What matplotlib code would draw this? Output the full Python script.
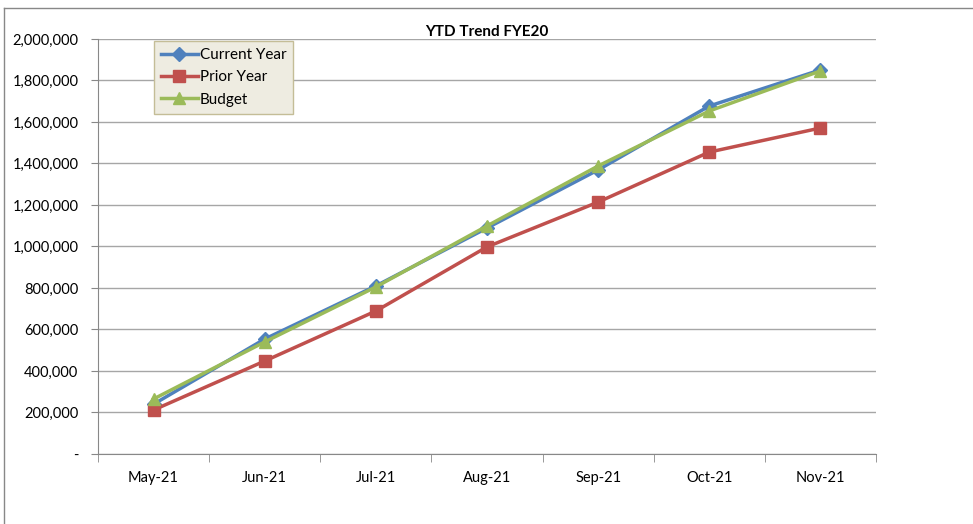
import matplotlib.pyplot as plt
from matplotlib.lines import Line2D
from matplotlib.ticker import FuncFormatter

plt.rcParams['font.family'] = ['Lato', 'DejaVu Sans']

### data #####
months = ['May-21', 'Jun-21', 'Jul-21', 'Aug-21', 'Sep-21', 'Oct-21', 'Nov-21']
current_year = [240000, 554000, 810000, 1089000, 1369000, 1677000, 1851000]
prior_year = [212000, 448000, 689000, 998000, 1214000, 1455000, 1571000]
budget = [265000, 540000, 805000, 1099000, 1388000, 1653000, 1846000]
y_ticks = [0, 200000, 400000, 600000, 800000, 1000000, 1200000, 1400000,
           1600000, 1800000, 2000000]

### figure #####
fig = plt.figure(figsize=(9.73, 5.24), dpi=100)
ax = fig.add_axes([0.1007, 0.1336, 0.7996, 0.7920])

x = list(range(len(months)))
ax.plot(x, current_year, color='#4F81BD', lw=2.5, marker='D', ms=7,
        label='Current Year', zorder=3)
ax.plot(x, prior_year, color='#C0504D', lw=2.5, marker='s', ms=8,
        label='Prior Year', zorder=3)
ax.plot(x, budget, color='#9BBB59', lw=2.5, marker='^', ms=9,
        label='Budget', zorder=4)

ax.set_xlim(-0.5, len(months) - 0.5)
ax.set_ylim(0, 2000000)
ax.set_yticks(y_ticks)
ax.yaxis.set_major_formatter(FuncFormatter(lambda v, p: '-' if v == 0 else f'{int(v):,}'))
ax.set_xticks(x)
ax.set_xticklabels(months)
ax.set_xticks([i - 0.5 for i in range(len(months) + 1)], minor=True)
ax.tick_params(axis='x', which='major', length=0, pad=12, labelsize=10.5)
ax.tick_params(axis='x', which='minor', length=6, color='#888888', direction='out')
ax.tick_params(axis='y', length=5, color='#888888', labelsize=10.5, pad=9)

ax.grid(axis='y', color='#A6A6A6', lw=1)
ax.set_axisbelow(True)
for s in ['top', 'right']:
    ax.spines[s].set_visible(False)
for s in ['left', 'bottom']:
    ax.spines[s].set_color('#888888')

fig.text(0.5, 0.939, 'YTD Trend FYE20', ha='center', va='center',
         fontsize=11, fontweight='bold')

leg = ax.legend(loc='upper left', bbox_to_anchor=(0.072, 0.995), fontsize=11,
                frameon=True, fancybox=False, handlelength=2.4,
                borderpad=0.45, labelspacing=0.55, handletextpad=0.15,
                borderaxespad=0)
leg.get_frame().set_facecolor('#EEECE1')
leg.get_frame().set_edgecolor('#C4BD97')
leg.get_frame().set_alpha(1)

# outer chart border (top and left only visible)
fig.add_artist(Line2D([4 / 973, 4 / 973], [0, 1 - 8 / 524], color='#888888', lw=1))
fig.add_artist(Line2D([4 / 973, 1], [1 - 8 / 524, 1 - 8 / 524], color='#888888', lw=1))

fig.savefig('out.png')
plt.close()
